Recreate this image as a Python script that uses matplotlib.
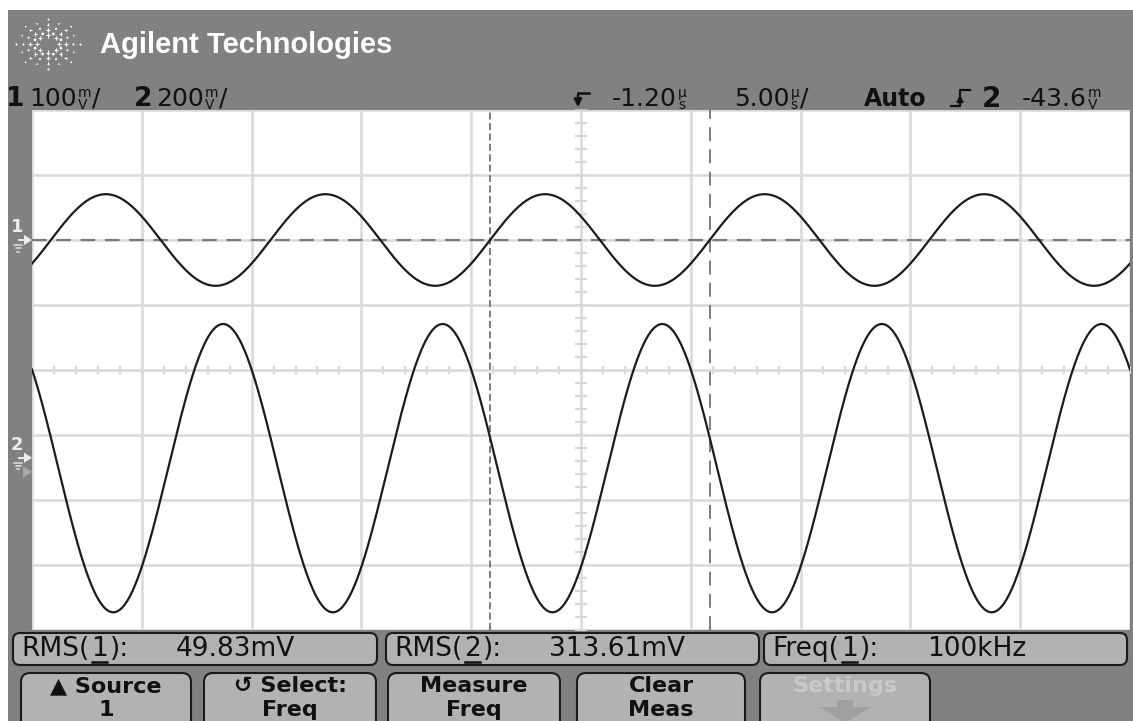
import numpy as np
import matplotlib
import matplotlib.pyplot as plt
import matplotlib.transforms as mtransforms
from matplotlib.patches import FancyBboxPatch, Rectangle, Polygon

matplotlib.use('Agg')

plt.rcParams['font.family'] = 'DejaVu Sans'
plt.rcParams['lines.scale_dashes'] = False

# Front panel settings (status line)
ch_scale_mv = [100, 200]        # mV/div for channel 1 and 2
time_per_div_us = 5.00
delay_us = -1.20
trig_source = 2
trig_level_mv = -43.6

# Measurement readouts
rms_mv = [49.83, 313.61]
freq_khz = 100

# Trace placement on the graticule
ch_ground_div = [2.0, -1.35]    # ground reference, divisions from centre
ch_dc_mv = [0.0, -32.0]
ch_rise_us = [-5.34, 0.0]       # a rising zero crossing of each channel
cursor_us = [-5.34, 4.66]

# Softkeys
key_top = ['\u25B2 Source', '\u21BA Select:', 'Measure', 'Clear', 'Settings']
key_bottom = ['1', 'Freq', 'Freq', 'Meas', '']

W, H = 1133, 721
panel = '#818181'
grid_c = '#d9d9d9'
trace_c = '#1c1c1c'
key_fill = '#b2b2b2'
ink = '#111111'

fig = plt.figure(figsize=(W / 100, H / 100), dpi=100)
fig.patch.set_facecolor(panel)

# background axes in pixel units
bg = fig.add_axes([0, 0, 1, 1])
bg.set_xlim(0, W)
bg.set_ylim(H, 0)
bg.axis('off')
bg.add_patch(Rectangle((0, 0), W, 10, color='white', lw=0))
bg.add_patch(Rectangle((0, 0), 8, H, color='white', lw=0))

renderer = fig.canvas.get_renderer()


def txt(x, y, s, size=18, weight='normal', color=ink, ha='left'):
    return bg.text(x, y, s, fontsize=size, fontweight=weight, color=color,
                   ha=ha, va='center')


def right_of(t):
    return t.get_window_extent(renderer).x1


def value_unit(x, y, num, top, bot, slash=False):
    """Number followed by a stacked unit (e.g. m over V) and optional '/'."""
    t = txt(x, y, num, 18)
    ux = right_of(t) + 1
    a = txt(ux, y - 6, top, 10)
    b = txt(ux, y + 6, bot, 10)
    end = max(right_of(a), right_of(b))
    if slash:
        end = right_of(txt(end + 1, y, '/', 18))
    return end


# ---- header ----
cx, cy = 48, 44
for ang in np.arange(0, 360, 45):
    a = np.deg2rad(ang)
    r = np.array([11, 18, 25, 32])
    bg.scatter(cx + r * np.cos(a), cy + 0.78 * r * np.sin(a),
               s=[9, 6, 3, 1.5], marker='+', color='white', lw=0.8)
for ang in np.arange(22.5, 360, 45):
    a = np.deg2rad(ang)
    r = np.array([14, 21, 28])
    bg.scatter(cx + r * np.cos(a), cy + 0.78 * r * np.sin(a),
               s=[4, 2.5, 1.5], color='white', lw=0)
txt(100, 45, 'Agilent Technologies', size=21, weight='bold',
    color='white').set_family('Liberation Sans')

ly = 99
txt(6, ly, '1', 19, 'bold')
value_unit(29, ly, '%d' % ch_scale_mv[0], 'm', 'V', slash=True)
txt(134, ly, '2', 19, 'bold')
value_unit(156, ly, '%d' % ch_scale_mv[1], 'm', 'V', slash=True)

value_unit(612, ly, '%.2f' % delay_us, '\u00b5', 's')
value_unit(734, ly, '%.2f' % time_per_div_us, '\u00b5', 's', slash=True)
txt(864, ly, 'Auto', 17, 'bold')
txt(982, ly, '%d' % trig_source, 20, 'bold')
value_unit(1022, ly, '%.1f' % trig_level_mv, 'm', 'V')

# trigger-point icon and edge symbol
bg.plot([578, 589], [93, 93], color=ink, lw=1.8)
bg.annotate('', xy=(578, 110), xytext=(578, 92),
            arrowprops=dict(arrowstyle='-|>', color=ink, lw=1.8,
                            mutation_scale=11))
bg.plot([951, 960, 960, 970], [106, 106, 90, 90], color=ink, lw=1.6)
bg.annotate('', xy=(960, 92), xytext=(960, 104),
            arrowprops=dict(arrowstyle='-|>', color=ink, lw=1.2,
                            mutation_scale=10))

# ---- graticule ----
sl, sr, st, sb = 32, 1130, 110, 630
ax = fig.add_axes([sl / W, (H - sb) / H, (sr - sl) / W, (sb - st) / H])
x0 = delay_us - 5 * time_per_div_us
x1 = delay_us + 5 * time_per_div_us
ax.set_xlim(x0, x1)
ax.set_ylim(-4, 4)
ax.set_facecolor('white')
for s in ax.spines.values():
    s.set_visible(False)
ax.set_xticks([])
ax.set_yticks([])
for k in range(-5, 6):
    ax.axvline(delay_us + k * time_per_div_us, color=grid_c, lw=1.8, zorder=1)
for j in range(-4, 5):
    ax.axhline(j, color=grid_c, lw=1.8, zorder=1)
yt = np.arange(-4, 4.001, 0.2)
ax.plot(np.full_like(yt, delay_us), yt, ls='none', marker='_', ms=9,
        mew=1.6, color=grid_c, zorder=1)
xt = np.arange(x0, x1 + 0.001, time_per_div_us / 5)
ax.plot(xt, np.zeros_like(xt), ls='none', marker='|', ms=6, mew=1.6,
        color=grid_c, zorder=1)

# ground reference level of channel 1 and the time cursors
ax.axhline(ch_ground_div[0], color='#7a7a7a', lw=1.6, dashes=(10.5, 7), zorder=2)
ax.axvline(cursor_us[0], color='#686868', lw=1.2, dashes=(5, 2.5), zorder=2)
ax.axvline(cursor_us[1], color='#686868', lw=1.2, dashes=(10, 6), zorder=2)

# traces
t = np.linspace(x0, x1, 3000)
f_mhz = freq_khz / 1000.0
for ch in range(2):
    amp = rms_mv[ch] * np.sqrt(2)
    v = ch_dc_mv[ch] + amp * np.sin(2 * np.pi * f_mhz * (t - ch_rise_us[ch]))
    ax.plot(t, ch_ground_div[ch] + v / ch_scale_mv[ch], color=trace_c,
            lw=1.6, zorder=3)

# markers along the top edge: time reference and trigger point
tr_top = mtransforms.blended_transform_factory(ax.transData, bg.transData)
bg.add_patch(Polygon([[delay_us - 0.28, st], [delay_us + 0.28, st],
                      [delay_us, st + 8]], closed=True, transform=tr_top,
                     facecolor='white', edgecolor='#c4c4c4', lw=1.2,
                     clip_on=False, zorder=5))
bg.add_patch(Polygon([[-0.35, st], [0.35, st], [0, st + 8]], closed=True,
                     transform=tr_top, facecolor='#9a9a9a', lw=0,
                     clip_on=False, zorder=5))

# channel markers on the left edge
tr_left = mtransforms.blended_transform_factory(bg.transData, ax.transData)
for ch in range(2):
    g = ch_ground_div[ch]
    bg.text(17, g + 0.2, str(ch + 1), transform=tr_left, fontsize=13,
            fontweight='bold', color='#ececec', ha='center', va='center')
    bg.plot([19, 27], [g, g], transform=tr_left, color='#ececec', lw=1.4)
    bg.add_patch(Polygon([[24, g + 0.08], [32, g], [24, g - 0.08]],
                         transform=tr_left, facecolor='#ececec', lw=0))
    for i, w in enumerate([8, 5, 2]):
        yy = g - 0.08 - 0.05 * i
        bg.plot([18 - w / 2, 18 + w / 2], [yy, yy], transform=tr_left,
                color='#e0e0e0', lw=1.1)
trig_div = ch_ground_div[trig_source - 1] + trig_level_mv / ch_scale_mv[trig_source - 1]
bg.add_patch(Polygon([[23, trig_div + 0.09], [32, trig_div], [23, trig_div - 0.09]],
                     transform=tr_left, facecolor='#a8a8a8', lw=0))

# ---- measurement line ----
meas_boxes = [(12, 378), (385, 760), (763, 1128)]
meas_names = ['RMS', 'RMS', 'Freq']
meas_src = ['1', '2', '1']
meas_vals = ['%.2fmV' % rms_mv[0], '%.2fmV' % rms_mv[1], '%dkHz' % freq_khz]
msize = 19
for (a, b), nm, src, val in zip(meas_boxes, meas_names, meas_src, meas_vals):
    bg.add_patch(FancyBboxPatch((a + 4, 636), b - a - 8, 26,
                                boxstyle='round,pad=3,rounding_size=7',
                                facecolor=key_fill, edgecolor='#1a1a1a', lw=1.5))
    xa = right_of(txt(a + 9, 649, nm + '(', msize)) + 2
    d = txt(xa, 649, src, msize)
    dw = d.get_window_extent(renderer).width
    bg.plot([xa + 1, xa + dw - 1], [662, 662], color=ink, lw=1.8)
    txt(xa + dw + 2, 649, '):', msize)
    txt(a + 164, 649, val, msize)

# ---- softkeys ----
keys = [(20, 192), (203, 377), (387, 561), (576, 746), (759, 931)]
for (a, b), top, bot in zip(keys, key_top, key_bottom):
    bg.add_patch(FancyBboxPatch((a + 4, 676), b - a - 8, 60,
                                boxstyle='round,pad=3,rounding_size=9',
                                facecolor=key_fill, edgecolor='#1a1a1a', lw=1.5))
    m = (a + b) / 2
    col = '#c9c9c9' if not bot else ink
    txt(m, 686, top, 16, 'bold', col, ha='center')
    if bot:
        txt(m, 710, bot, 16, 'bold', col, ha='center')
    else:
        bg.add_patch(Polygon([[m - 26, 707], [m + 26, 707], [m, 723]],
                             facecolor='#a0a0a0', lw=0))
        bg.add_patch(Rectangle((m - 8, 700), 16, 8, facecolor='#a0a0a0', lw=0))

fig.savefig('out.png', dpi=100, facecolor=fig.get_facecolor())
